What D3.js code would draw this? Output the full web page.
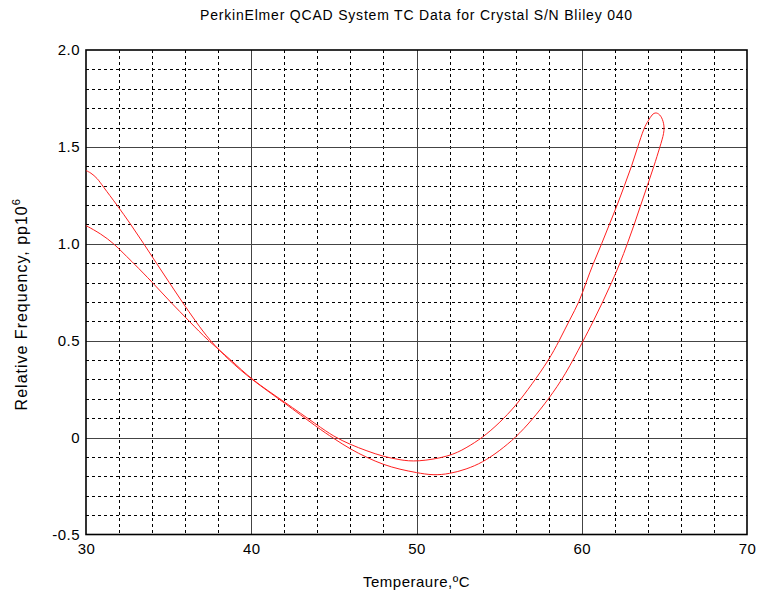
<!DOCTYPE html>
<html>
<head>
<meta charset="utf-8">
<script src="https://cdn.jsdelivr.net/npm/d3@7"></script>
<style>
  body { margin: 0; background: #fff; }
  text { font-family: "Liberation Sans", Arial, sans-serif; fill: #000; }
</style>
</head>
<body>
<svg id="chart"></svg>
<script>
// one continuous loop: cooling branch from (30,1.38) out to the hook, heating branch back to (30,1.09)
let temperature = [30.0, 30.28, 30.69, 30.99, 31.88, 32.71, 33.5, 34.26, 35.04, 35.82, 36.63, 37.5, 38.65, 40.0,
    42.0, 44.0, 45.0, 46.0, 47.0, 48.0, 49.0, 50.0, 51.0, 52.0, 53.0, 54.0, 55.0, 56.0, 57.0, 58.0, 59.0, 60.09,
    60.7, 61.27, 61.81, 62.32, 62.76, 63.18, 63.57, 63.97, 64.37, 64.73, 65.0, 64.98, 64.8, 64.5, 64.25, 64.03,
    63.77, 63.39, 63.02, 62.58, 62.15, 61.67, 61.21, 60.7, 60.26, 59.85, 59.28, 58.64, 58.0, 57.0, 56.0, 55.0,
    54.0, 53.0, 52.0, 50.0, 49.0, 48.0, 47.0, 46.0, 45.0, 44.0, 42.0, 40.0, 38.8, 37.38, 36.26, 35.1,
    34.03, 32.88, 32.3, 31.7, 30.9, 30.0]
let frequency = [1.378, 1.367, 1.338, 1.3, 1.2, 1.1, 1.0, 0.9, 0.8, 0.7, 0.6, 0.5, 0.4, 0.3,
    0.18, 0.052, -0.005, -0.06, -0.103, -0.14, -0.164, -0.181, -0.195, -0.187, -0.164, -0.128, -0.07, 0.0, 0.092, 0.2, 0.323, 0.5,
    0.6, 0.7, 0.8, 0.9, 1.0, 1.1, 1.2, 1.3, 1.4, 1.5, 1.575, 1.62, 1.662, 1.68, 1.668, 1.635,
    1.6, 1.5, 1.4, 1.3, 1.2, 1.1, 1.0, 0.9, 0.8, 0.7, 0.61, 0.5, 0.399, 0.277, 0.163, 0.074,
    0.0, -0.054, -0.098, -0.126, -0.115, -0.098, -0.069, -0.036, 0.005, 0.064, 0.185, 0.3, 0.4, 0.5, 0.6, 0.7,
    0.8, 0.9, 0.948, 1.0, 1.052, 1.094]

let xTicks = [30, 40, 50, 60, 70]
let yTicks = [-0.5, 0, 0.5, 1.0, 1.5, 2.0]
let yTickLabels = ['-0.5', '0', '0.5', '1.0', '1.5', '2.0']

let chartTitle = 'PerkinElmer QCAD System TC Data for Crystal S/N Bliley 040'
let xTitle = 'Temperaure,\u00BAC'

function getConfig(){
    let width = 769, height = 594
    let margin = { top: 50, left: 86, right: 22, bottom: 59.5 }
    let bodyWidth = width - margin.left - margin.right
    let bodyHeight = height - margin.top - margin.bottom
    let svg = d3.select('#chart').attr('width', width).attr('height', height)
    return { width, height, margin, bodyWidth, bodyHeight, svg }
}

function getScales(config){
    let xScale = d3.scaleLinear().domain([30, 70]).range([0, config.bodyWidth])
    let yScale = d3.scaleLinear().domain([-0.5, 2.0]).range([config.bodyHeight, 0])
    return { xScale, yScale }
}

function drawGrid(scales, config){
    let { xScale, yScale } = scales
    let { svg, margin, bodyWidth, bodyHeight } = config
    let body = svg.append('g').attr('transform', `translate(${margin.left},${margin.top})`)

    let minorX = d3.range(32, 70, 2).filter(v => v % 10 !== 0)
    let minorY = d3.range(-4, 20).map(v => v / 10).filter(v => Math.abs(v * 2 - Math.round(v * 2)) > 1e-6)

    body.selectAll('.minorX').data(minorX).enter().append('line')
        .attr('x1', d => Math.round(xScale(d)) + 0.5).attr('x2', d => Math.round(xScale(d)) + 0.5)
        .attr('y1', 0).attr('y2', bodyHeight)
        .attr('stroke', '#000').attr('stroke-width', 1).attr('stroke-dasharray', '3,3')
    body.selectAll('.minorY').data(minorY).enter().append('line')
        .attr('y1', d => Math.round(yScale(d)) + 0.5).attr('y2', d => Math.round(yScale(d)) + 0.5)
        .attr('x1', 0).attr('x2', bodyWidth)
        .attr('stroke', '#000').attr('stroke-width', 1).attr('stroke-dasharray', '3,3')

    body.selectAll('.majorX').data(xTicks.slice(1, -1)).enter().append('line')
        .attr('x1', d => Math.round(xScale(d)) + 0.5).attr('x2', d => Math.round(xScale(d)) + 0.5)
        .attr('y1', 0).attr('y2', bodyHeight)
        .attr('stroke', '#444').attr('stroke-width', 1)
    body.selectAll('.majorY').data(yTicks.slice(1, -1)).enter().append('line')
        .attr('y1', d => Math.round(yScale(d)) + 0.5).attr('y2', d => Math.round(yScale(d)) + 0.5)
        .attr('x1', 0).attr('x2', bodyWidth)
        .attr('stroke', '#444').attr('stroke-width', 1)

    body.append('rect')
        .attr('x', 0).attr('y', 0).attr('width', bodyWidth).attr('height', bodyHeight)
        .attr('fill', 'none').attr('stroke', '#000').attr('stroke-width', 1.6)
    return body
}

function drawAxes(scales, config){
    let { xScale, yScale } = scales
    let { svg, margin, height } = config

    let axisX = d3.axisBottom(xScale).tickValues(xTicks).tickSize(0).tickPadding(9)
    let gx = svg.append('g')
        .attr('transform', `translate(${margin.left},${height - margin.bottom})`)
        .call(axisX)
    gx.select('.domain').remove()
    gx.selectAll('text').style('font-size', '15px').style('letter-spacing', '0.5px').attr('font-family', null)

    let axisY = d3.axisLeft(yScale).tickValues(yTicks).tickSize(0).tickPadding(6)
        .tickFormat((d, i) => yTickLabels[i])
    let gy = svg.append('g')
        .attr('transform', `translate(${margin.left},${margin.top})`)
        .call(axisY)
    gy.select('.domain').remove()
    gy.selectAll('text').style('font-size', '15px').style('letter-spacing', '0.5px').attr('font-family', null)
}

function drawLine(body, scales){
    let { xScale, yScale } = scales
    let pts = temperature.map((t, i) => ({ t, f: frequency[i] }))
    // basis smooths out the small reading errors of the traced points
    let lineG = d3.line()
        .x(d => xScale(d.t))
        .y(d => yScale(d.f))
        .curve(d3.curveBasis)
    body.append('path')
        .datum(pts)
        .attr('d', lineG)
        .attr('fill', 'none')
        .attr('stroke', '#ff2020')
        .attr('stroke-width', 1)
}

function drawTitles(config){
    let { svg, margin, bodyWidth, bodyHeight } = config
    let cx = margin.left + bodyWidth / 2
    svg.append('text')
        .attr('x', cx).attr('y', 20)
        .attr('text-anchor', 'middle')
        .style('font-size', '14px')
        .style('letter-spacing', '0.8px')
        .text(chartTitle)
    svg.append('text')
        .attr('x', cx).attr('y', 587)
        .attr('text-anchor', 'middle')
        .style('font-size', '15px')
        .style('letter-spacing', '0.5px')
        .text(xTitle)
    let yl = svg.append('text')
        .attr('transform', `translate(27,${margin.top + bodyHeight / 2 + 12}) rotate(-90)`)
        .attr('text-anchor', 'middle')
        .style('font-size', '16px')
        .style('letter-spacing', '1px')
    yl.append('tspan').text('Relative Frequency, pp10')
    yl.append('tspan').attr('dy', -7).style('font-size', '11px').text('6')
}

let config = getConfig()
let scales = getScales(config)
let body = drawGrid(scales, config)
drawLine(body, scales)
drawAxes(scales, config)
drawTitles(config)
</script>
</body>
</html>
